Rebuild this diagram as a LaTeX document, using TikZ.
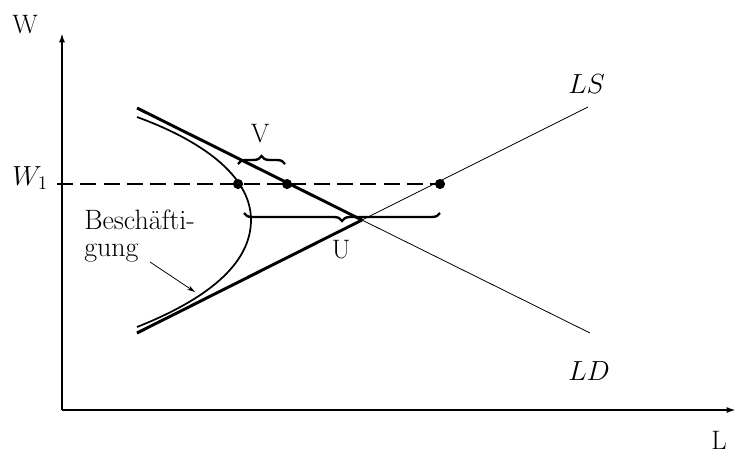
\documentclass[tikz,border=0pt]{standalone}
\usepackage{fontspec}
\usepackage{tikz}
\usetikzlibrary{arrows.meta, decorations.pathreplacing}

\begin{document}
\begin{tikzpicture}[x=0.75pt, y=-0.75pt,
  axis/.style={line width=2pt, -{Latex[length=7pt,width=4.5pt]}},
  thinline/.style={line width=0.6pt},
  boldline/.style={line width=2.2pt},
  lbl/.style={font=\fontsize{20}{24}\selectfont, inner sep=0pt},
  brc/.style={decorate, line width=1.8pt, decoration={brace, amplitude=6pt}}]
\useasboundingbox (0,0) rectangle (736,455);
% axes
\coordinate (O) at (62,410);
\draw[axis] (62,410) -- (62,33);
\draw[axis] (62,410) -- (736,410);
\node[lbl, anchor=base west] (wlab) at (12,33) {W};
\node[lbl, anchor=base west] (llab) at (711,449) {L};
% curves
\coordinate (ld1) at (137,108); \coordinate (ld2) at (590,333);
\coordinate (ls1) at (137,333); \coordinate (ls2) at (588,107);
\coordinate (E) at (362,220);
\draw[thinline] (E) -- (ld2);
\draw[thinline] (E) -- (ls2);
\draw[boldline] (ld1) -- (E);
\draw[boldline] (ls1) -- (E);
\node[lbl, anchor=base west] (ls) at (568,93) {$LS$};
\node[lbl, anchor=base west] (ld) at (568,380) {$LD$};
% employment curve
\draw[line width=1.3pt] (137,117) .. controls (200,140) and (251,175) .. (251,220)
  .. controls (251,265) and (205,300) .. (137,327);
% wage line
\draw[line width=1.3pt, dash pattern=on 12pt off 5.5pt] (57,184) -- (440,184);
\node[lbl, anchor=base west] (w1) at (12,185) {$W_1$};
\fill (238,184) circle[radius=3.8pt];
\fill (287,184) circle[radius=3.8pt];
\fill (440,184) circle[radius=3.8pt];
% braces
\draw[brc] (238,164) -- (285,164);
\node[lbl, anchor=base] (v) at (260,142) {V};
\draw[brc] (440,213) -- (244,213);
\node[lbl, anchor=base] (u) at (341,258) {U};
% label
\node[font=\fontsize{21}{20.25}\selectfont, align=left, anchor=north west, inner sep=0pt] (besch) at (84,209.5) {Beschäfti-\\gung};
\draw[thinline, -{Stealth[length=6pt,width=3.5pt]}] (150,262) -- (195,292);
\end{tikzpicture}
\end{document}
